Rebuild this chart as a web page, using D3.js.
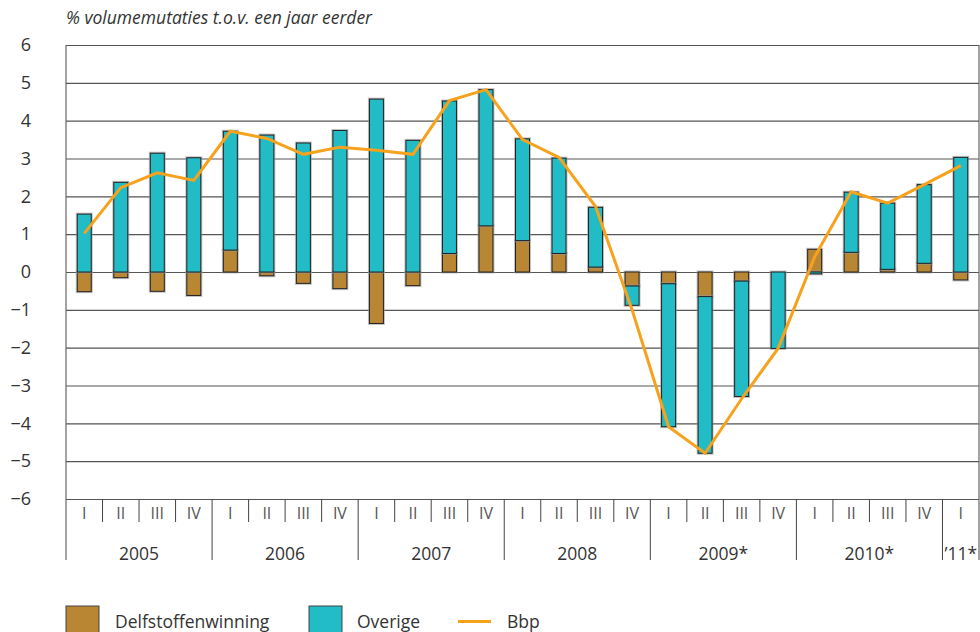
<!DOCTYPE html>
<html>
<head>
<meta charset="utf-8">
<script src="https://cdn.jsdelivr.net/npm/d3@7"></script>
<style>
  body { margin: 0; background: #fff; }
  svg { display: block; font-family: "Open Sans", "Noto Sans", sans-serif; }
</style>
</head>
<body>
<div id="chart"></div>
<script>
// kwartalen 2005 I t/m 2011 I
const years = ['2005', '2006', '2007', '2008', '2009*', '2010*', '\u201911*'];
const quartersPerYear = [4, 4, 4, 4, 4, 4, 1];
const quarterNames = ['I', 'II', 'III', 'IV'];

const delfstoffen = [-0.52, -0.15, -0.51, -0.62, 0.58, -0.10, -0.30, -0.44,
  -1.36, -0.36, 0.49, 1.22, 0.83, 0.49, 0.13, -0.37,
  -0.31, -0.65, -0.24, 0.00, 0.60, 0.52, 0.07, 0.23, -0.21];
const overige = [1.53, 2.37, 3.14, 3.02, 3.14, 3.62, 3.41, 3.74,
  4.57, 3.48, 4.03, 3.60, 2.69, 2.52, 1.58, -0.51,
  -3.78, -4.14, -3.05, -2.02, -0.05, 1.59, 1.75, 2.08, 3.03];
const bbp = [1.02, 2.23, 2.62, 2.42, 3.72, 3.53, 3.11, 3.30,
  3.22, 3.11, 4.53, 4.82, 3.50, 3.03, 1.73, -1.00,
  -4.09, -4.79, -3.35, -2.02, 0.40, 2.12, 1.82, 2.31, 2.81];
const yTicks = [-6, -5, -4, -3, -2, -1, 0, 1, 2, 3, 4, 5, 6];

const width = 980, height = 632;
const plotLeft = 66, plotRight = 979, plotTop = 45, plotBottom = 499;

const quarters = [];
years.forEach((yr, yi) => {
  for (let q = 0; q < quartersPerYear[yi]; q++) {
    quarters.push({ id: quarters.length, year: yr, label: quarterNames[q] });
  }
});
const rows = quarters.map((q, i) => ({ id: q.id, delf: delfstoffen[i], overige: overige[i], bbp: bbp[i] }));

const svg = d3.select('#chart').append('svg')
  .attr('width', width)
  .attr('height', height);

const x = d3.scaleBand()
  .domain(quarters.map(d => d.id))
  .range([plotLeft, plotRight])
  .paddingInner(0.617)
  .paddingOuter(0.3085);
const step = x.step();

const y = d3.scaleLinear()
  .domain([-6, 6])
  .range([plotBottom, plotTop]);

// titel
svg.append('text')
  .attr('x', plotLeft)
  .attr('y', 24)
  .attr('font-size', 17.5)
  .attr('font-style', 'italic')
  .attr('fill', '#333')
  .text('% volumemutaties t.o.v. een jaar eerder');

// rasterlijnen
svg.append('g')
  .attr('transform', `translate(${plotLeft},0)`)
  .call(d3.axisLeft(y).tickValues(yTicks).tickSize(-(plotRight - plotLeft)).tickFormat(''))
  .call(g => g.select('.domain').remove())
  .call(g => g.selectAll('.tick line').attr('stroke', '#555').attr('stroke-width', 1.2));

// y labels
svg.append('g')
  .selectAll('text')
  .data(yTicks)
  .enter()
  .append('text')
  .attr('x', 31)
  .attr('y', d => y(d))
  .attr('dy', '0.35em')
  .attr('text-anchor', 'end')
  .attr('font-size', 18)
  .attr('fill', '#333')
  .text(d => d < 0 ? '\u2212' + Math.abs(d) : d);

// gestapelde staven
const stack = d3.stack()
  .keys(['delf', 'overige'])
  .offset(d3.stackOffsetDiverging);
const series = stack(rows);
const colors = { delf: '#b98734', overige: '#21bcc6' };

const barW = x.bandwidth();
series.forEach(s => {
  const g = svg.append('g');
  g.selectAll('rect.halo')
    .data(s)
    .enter()
    .append('rect')
    .attr('x', d => x(d.data.id))
    .attr('y', d => y(Math.max(d[0], d[1])))
    .attr('width', barW)
    .attr('height', d => Math.abs(y(d[0]) - y(d[1])))
    .attr('fill', 'none')
    .attr('stroke', '#999')
    .attr('stroke-opacity', 0.6)
    .attr('stroke-width', 3);
  g.selectAll('rect.bar')
    .data(s)
    .enter()
    .append('rect')
    .attr('x', d => x(d.data.id))
    .attr('y', d => y(Math.max(d[0], d[1])))
    .attr('width', barW)
    .attr('height', d => Math.abs(y(d[0]) - y(d[1])))
    .attr('fill', colors[s.key])
    .attr('stroke', '#222')
    .attr('stroke-width', 1);
});

// Bbp lijn
const line = d3.line()
  .x(d => x(d.id) + barW / 2)
  .y(d => y(d.bbp));
svg.append('path')
  .datum(rows)
  .attr('fill', 'none')
  .attr('stroke', '#f6a21c')
  .attr('stroke-width', 3)
  .attr('stroke-linejoin', 'miter')
  .attr('d', line);

// rechter rand en linker as
svg.append('line')
  .attr('x1', plotRight).attr('x2', plotRight)
  .attr('y1', plotTop).attr('y2', 560)
  .attr('stroke', '#666').attr('stroke-width', 1.2);
svg.append('line')
  .attr('x1', plotLeft).attr('x2', plotLeft)
  .attr('y1', plotTop).attr('y2', 560)
  .attr('stroke', '#666').attr('stroke-width', 1.2);

// x-as: kwartalen
const xg = svg.append('g');
xg.selectAll('line.q')
  .data(quarters.slice(1))
  .enter()
  .append('line')
  .attr('x1', d => x(d.id) - (step - barW) / 2)
  .attr('x2', d => x(d.id) - (step - barW) / 2)
  .attr('y1', plotBottom)
  .attr('y2', d => quarterNames.indexOf(d.label) === 0 ? 560 : 522)
  .attr('stroke', '#444')
  .attr('stroke-width', 1);
xg.selectAll('text.q')
  .data(quarters)
  .enter()
  .append('text')
  .attr('x', d => x(d.id) + barW / 2)
  .attr('y', 519)
  .attr('text-anchor', 'middle')
  .attr('font-size', 16)
  .attr('fill', '#555')
  .text(d => d.label);

// jaren
const yearPos = [];
let acc = 0;
quartersPerYear.forEach((n, i) => {
  yearPos.push({ year: years[i], first: acc, last: acc + n - 1 });
  acc += n;
});
xg.selectAll('text.y')
  .data(yearPos)
  .enter()
  .append('text')
  .attr('x', d => (x(d.first) + x(d.last) + barW) / 2)
  .attr('y', 560)
  .attr('text-anchor', 'middle')
  .attr('font-size', 17.5)
  .attr('fill', '#333')
  .text(d => d.year);

// legenda
const legend = svg.append('g');
legend.append('rect').attr('x', 66).attr('y', 606).attr('width', 33).attr('height', 27)
  .attr('fill', colors.delf).attr('stroke', '#444');
legend.append('text').attr('x', 115).attr('y', 628).attr('font-size', 17.5).attr('fill', '#333')
  .text('Delfstoffenwinning');
legend.append('rect').attr('x', 309).attr('y', 606).attr('width', 33).attr('height', 27)
  .attr('fill', colors.overige).attr('stroke', '#444');
legend.append('text').attr('x', 357).attr('y', 628).attr('font-size', 17.5).attr('fill', '#333')
  .text('Overige');
legend.append('line').attr('x1', 458).attr('x2', 491).attr('y1', 621.5).attr('y2', 621.5)
  .attr('stroke', '#f6a21c').attr('stroke-width', 3);
legend.append('text').attr('x', 507).attr('y', 628).attr('font-size', 17.5).attr('fill', '#333')
  .text('Bbp');
</script>
</body>
</html>
